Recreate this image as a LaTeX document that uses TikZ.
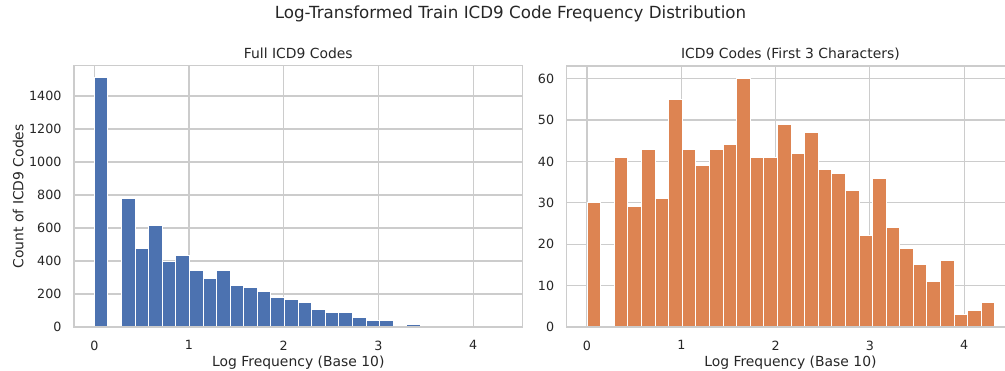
\documentclass[tikz,border=0pt]{standalone}
\usepackage{fontspec}
\setmainfont{DejaVu Sans}

\definecolor{sbblue}{HTML}{4C72B0}
\definecolor{sborange}{HTML}{DD8452}
\definecolor{gridgray}{HTML}{CCCCCC}
\definecolor{textgray}{HTML}{262626}

\begin{document}
\begin{tikzpicture}[x=1pt,y=1pt,
  gridline/.style={gridgray, line width=1.1pt},
  spine/.style={gridgray, line width=1.45pt},
  bar/.style={draw=white, line width=0.9pt},
  ticklabel/.style={text=textgray, inner sep=0pt, font=\fontsize{12.7}{15}\selectfont},
  axislabel/.style={text=textgray, inner sep=0pt, font=\fontsize{13.9}{16}\selectfont}]

\clip (0,0) rectangle (1005,370);

\node[axislabel, anchor=base, font=\fontsize{16.7}{19}\selectfont] (suptitle) at (510.5,351) {Log-Transformed Train ICD9 Code Frequency Distribution};

% left panel: full codes
\begin{scope}[shift={(94.3,43)}, x=94.7pt, y=0.165pt]
\def\bw{0.14347}
\foreach \y in {0,200,...,1400} {
  \draw[gridline] (-0.2152,\y) -- (4.519,\y);
  \node[ticklabel, anchor=east, xshift=-12.3pt] (lyt\y) at (-0.2152,\y) {\y};
}
\foreach \x in {0,...,4} {
  \draw[gridline] (\x,0) -- (\x,1585.5);
  \node[ticklabel, anchor=north, yshift=-13.5pt] (lxt\x) at (\x,0) {\x};
}
\foreach \h [count=\i from 0] in {1510,0,780,478,614,398,433,343,296,341,253,237,214,178,164,149,109,91,87,58,40,40,12,18,9,0,0,0,0,0} {
  \ifnum\h>0
    \draw[bar, fill=sbblue] (\i*\bw,0) rectangle ({(\i+1)*\bw},\h);
  \fi
}
\draw[spine] (-0.2152,0) rectangle (4.519,1585.5);
\end{scope}

% right panel: first three characters
\begin{scope}[shift={(587,43)}, x=94.3pt, y=4.14pt]
\def\bw{0.1442}
\foreach \y in {0,10,...,60} {
  \draw[gridline] (-0.2163,\y) -- (4.5423,\y);
  \node[ticklabel, anchor=east, xshift=-12.3pt] (ryt\y) at (-0.2163,\y) {\y};
}
\foreach \x in {0,...,4} {
  \draw[gridline] (\x,0) -- (\x,63);
  \node[ticklabel, anchor=north, yshift=-13.5pt] (rxt\x) at (\x,0) {\x};
}
\foreach \h [count=\i from 0] in {30,0,41,29,43,31,55,43,39,43,44,60,41,41,49,42,47,38,37,33,22,36,24,19,15,11,16,3,4,6} {
  \ifnum\h>0
    \draw[bar, fill=sborange] (\i*\bw,0) rectangle ({(\i+1)*\bw},\h);
  \fi
}
\draw[spine] (-0.2163,0) rectangle (4.5423,63);
\end{scope}

% titles and axis labels
\node[axislabel, anchor=base] (ltitle) at (298.3,311.7) {Full ICD9 Codes};
\node[axislabel, anchor=base] (rtitle) at (790.4,311.7) {ICD9 Codes (First 3 Characters)};
\node[axislabel, anchor=base] (lxlab) at (298.3,4) {Log Frequency (Base 10)};
\node[axislabel, anchor=base] (rxlab) at (790.4,4) {Log Frequency (Base 10)};
\node[axislabel, anchor=base, rotate=90] (lylab) at (23.3,173.7) {Count of ICD9 Codes};

\end{tikzpicture}
\end{document}
